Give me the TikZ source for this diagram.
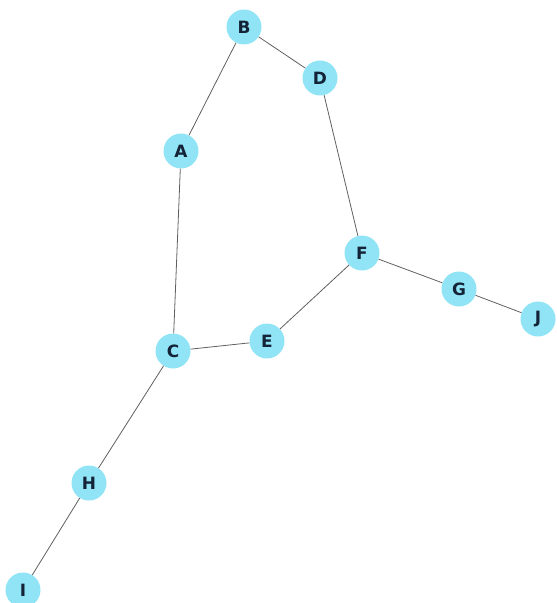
\documentclass[tikz,border=0pt]{standalone}
\usepackage{fontspec}
\setmainfont{DejaVu Sans}
\definecolor{nodefill}{RGB}{145,228,245}
\definecolor{nodetext}{RGB}{20,35,55}
\definecolor{edgecol}{RGB}{95,95,95}
\begin{document}
\begin{tikzpicture}[x=1bp,y=-1bp,
  vert/.style={circle,fill=nodefill,minimum size=35bp,inner sep=0pt,text=nodetext,font=\fontsize{17}{17}\selectfont\bfseries},
  edge/.style={draw=edgecol,line width=0.8bp}]
\useasboundingbox (0,0) rectangle (557,603);
\node[vert] (B) at (244,27) {B};
\node[vert] (D) at (320,78) {D};
\node[vert] (A) at (181,151) {A};
\node[vert] (F) at (362,253) {F};
\node[vert] (G) at (459,289) {G};
\node[vert] (J) at (538,319) {J};
\node[vert] (E) at (267,341) {E};
\node[vert] (C) at (173,351) {C};
\node[vert] (H) at (89,483) {H};
\node[vert] (I) at (23,590) {I};
\draw[edge] (B) -- (D);
\draw[edge] (B) -- (A);
\draw[edge] (A) -- (C);
\draw[edge] (D) -- (F);
\draw[edge] (F) -- (G);
\draw[edge] (G) -- (J);
\draw[edge] (F) -- (E);
\draw[edge] (E) -- (C);
\draw[edge] (C) -- (H);
\draw[edge] (H) -- (I);
\end{tikzpicture}
\end{document}
